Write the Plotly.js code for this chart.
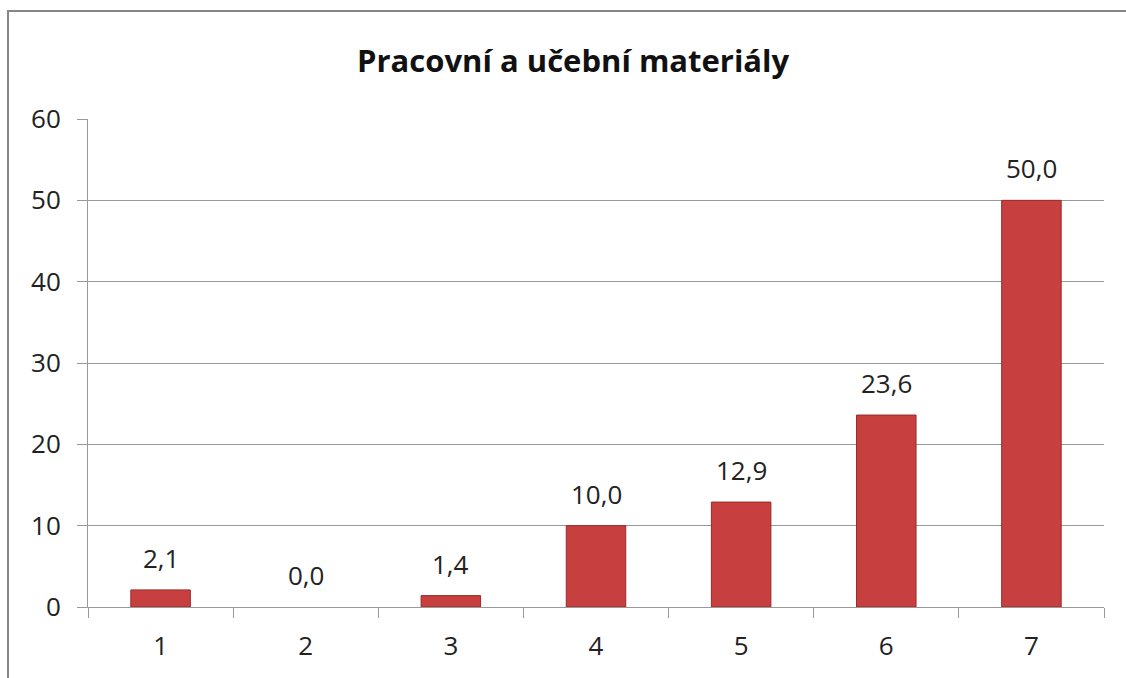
<!DOCTYPE html>
<html>
<head>
<meta charset="utf-8">
<script src="https://cdn.plot.ly/plotly-3.0.1.min.js"></script>
<style>
  html, body { margin: 0; padding: 0; background: #fff; }
  #wrap { position: relative; width: 1126px; height: 678px; overflow: hidden; }
  #chart { width: 1126px; height: 678px; }
  #frame { position: absolute; left: 7px; top: 10px; width: 1130px; height: 680px;
           border: 2px solid #868686; box-sizing: border-box; pointer-events: none; }
</style>
</head>
<body>
<div id="wrap">
  <div id="chart"></div>
  <div id="frame"></div>
</div>
<script>
const categories = ['1', '2', '3', '4', '5', '6', '7'];
const values = [2.1, 0.0, 1.4, 10.0, 12.9, 23.6, 50.0];
const yTicks = [0, 10, 20, 30, 40, 50, 60];
const chartTitle = 'Pracovní a učební materiály';

const fmt = v => v.toFixed(1).replace('.', ',');
const FONT = 'Open Sans, sans-serif';

const trace = {
  type: 'bar',
  x: categories,
  y: values,
  marker: {
    color: '#c83f3f',
    line: { color: '#982a2a', width: values.map(v => (v > 0 ? 1 : 0)) }
  },
  hoverinfo: 'x+y'
};

const annotations = categories.map((c, i) => ({
  x: i, y: values[i], xref: 'x', yref: 'y',
  text: fmt(values[i]), showarrow: false,
  yanchor: 'bottom', yshift: 12,
  font: { family: FONT, size: 26, color: '#222' }
}));

const layout = {
  width: 1126, height: 678,
  margin: { l: 88, r: 22, t: 119, b: 71 },
  paper_bgcolor: '#fff', plot_bgcolor: '#fff',
  showlegend: false,
  bargap: 0.59,
  title: {
    text: '<b>' + chartTitle + '</b>',
    x: 0.509, xanchor: 'center', y: 0.91, yanchor: 'middle',
    font: { family: FONT, size: 31, color: '#111' }
  },
  xaxis: {
    type: 'category',
    range: [-0.5, 6.5],
    showline: true, linecolor: '#999', linewidth: 1,
    ticks: 'outside', tickson: 'boundaries', ticklen: 10, tickcolor: '#999',
    showgrid: false, zeroline: false,
    ticklabelstandoff: 16,
    tickfont: { family: FONT, size: 26, color: '#222' }
  },
  yaxis: {
    range: [0, 60],
    tickvals: yTicks,
    ticktext: yTicks.map(String),
    showline: true, linecolor: '#999', linewidth: 1,
    ticks: 'outside', ticklen: 10, tickcolor: '#999',
    showgrid: true, gridcolor: '#999', gridwidth: 1,
    zeroline: false,
    ticklabelstandoff: 11,
    tickfont: { family: FONT, size: 26, color: '#222' }
  },
  annotations: annotations
};

Plotly.newPlot('chart', [trace], layout, { displayModeBar: false, staticPlot: true });
</script>
</body>
</html>
